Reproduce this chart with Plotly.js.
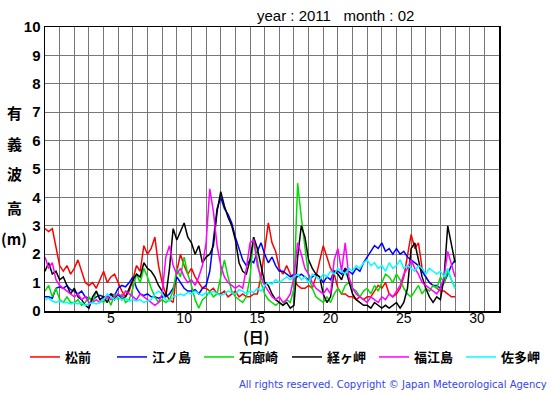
<!DOCTYPE html>
<html><head><meta charset="utf-8">
<script src="https://cdn.plot.ly/plotly-3.0.1.min.js"></script>
<style>html,body{margin:0;padding:0;background:#fff;}#chart{width:555px;height:395px;}</style>
</head><body><div id="chart"></div>
<script>
// 6-hourly significant wave height (m), Feb 2011, t = days elapsed since Feb 1 00:00
const stepDays = 0.25;
const names = ['松前','江ノ島','石廊崎','経ヶ岬','福江島','佐多岬'];
const colors = ['#ff0000','#0000ff','#00dd00','#000000','#ff00ff','#00ffff'];
const matsumae = [
2.9,2.8,2.9,2.3, 1.6,1.4,1.6,1.3, 1.5,1.8,1.4,1.0, 0.9,1.0,0.8,1.1, 1.4,1.0,1.2,1.3,
1.0,0.7,0.5,0.7, 1.1,1.6,1.4,2.3, 2.0,2.2,2.6,1.6, 1.0,0.6,0.4,0.3, 1.4,2.0,1.6,1.3,
1.5,1.2,1.0,0.8, 0.8,0.7,0.8,0.6, 0.6,0.7,0.5,0.6, 0.7,0.5,0.6,0.5, 0.5,0.6,0.6,1.2,
2.2,3.1,2.4,2.1, 1.5,1.3,1.6,1.3, 1.1,0.9,0.8,0.8, 0.9,0.8,1.2,1.8, 2.3,1.9,1.5,1.3,
0.8,0.6,0.6,0.5, 0.5,0.4,0.5,0.4, 0.5,0.5,0.7,0.9, 0.8,1.0,0.6,0.5, 0.6,0.8,1.2,2.0,
2.7,2.2,2.4,1.5, 1.2,1.0,0.9,0.8, 0.7,0.7,0.6,0.5, 0.5];
const enoshima = [
0.5,0.5,0.45,0.8, 0.85,0.8,0.9,0.75, 0.7,0.6,0.7,0.5, 0.45,0.4,0.5,0.55, 0.5,0.5,0.6,0.55,
0.8,0.9,0.85,1.0, 1.2,0.8,0.6,0.55, 0.6,0.5,0.5,0.45, 0.5,0.5,0.6,0.8, 1.2,1.0,0.8,0.7,
0.7,0.75,0.6,0.8, 0.9,1.4,2.5,3.6, 4.0,3.6,3.4,3.1, 2.6,2.2,1.8,1.6, 1.8,1.7,2.1,2.4,
2.0,1.7,1.9,1.6, 1.4,1.4,1.3,1.2, 1.3,1.2,1.3,1.2, 1.1,1.2,1.3,1.2, 1.0,1.2,1.1,1.4,
1.4,1.3,1.5,1.4, 1.3,1.5,1.4,1.7, 1.9,2.1,2.3,2.2, 2.4,2.1,2.2,2.0, 2.2,2.0,2.1,1.9,
1.8,1.7,1.6,1.4, 1.2,1.0,0.9,0.9, 0.8,1.0,1.3,1.6, 1.8];
const irozaki = [
0.7,0.9,0.5,0.8, 0.4,0.3,0.5,0.3, 0.3,0.4,0.2,0.3, 0.5,0.3,0.7,0.4, 0.3,0.5,0.2,0.6,
0.4,0.6,0.3,0.4, 0.8,1.3,1.0,1.5, 1.2,0.8,0.5,0.3, 0.4,0.3,0.4,0.7, 1.5,1.2,1.9,1.3,
0.9,0.4,0.1,0.4, 0.5,0.7,0.5,0.6, 1.2,1.8,1.2,0.7, 0.5,0.4,0.3,0.5, 1.2,2.6,1.8,1.0,
0.6,0.4,0.3,0.2, 0.3,0.2,0.4,0.3, 0.8,4.5,3.3,2.2, 1.2,0.8,0.5,0.4, 0.3,0.5,0.3,0.6,
0.8,0.6,0.9,1.0, 0.8,0.7,0.5,0.7, 0.8,0.6,0.9,0.7, 1.0,1.3,1.2,1.0, 1.3,1.1,0.8,0.6,
0.5,0.7,0.9,0.6, 0.8,0.7,0.9,0.8, 1.2,1.0,1.4,1.1, 0.8];
const kyogamisaki = [
1.4,1.7,1.3,1.4, 1.1,1.2,0.9,0.6, 0.8,0.5,0.4,0.2, 0.1,0.5,0.7,0.4, 0.5,0.3,0.6,0.4,
0.6,0.4,0.5,0.8, 1.1,1.3,1.2,1.7, 1.5,1.4,1.2,0.9, 0.7,0.5,1.5,2.9, 2.5,2.8,3.1,2.6,
2.4,2.0,2.3,1.7, 1.9,2.0,2.3,3.5, 4.2,3.7,3.3,3.0, 2.5,1.7,1.4,1.3, 1.8,2.6,2.2,1.6,
1.0,0.9,0.6,0.4, 0.3,0.2,0.3,0.1, 0.2,1.9,3.0,2.6, 1.8,1.5,1.3,1.2, 0.6,0.3,0.5,1.4,
1.3,1.1,1.5,1.0, 0.6,0.4,0.3,0.2, 0.2,0.1,0.3,0.2, 0.1,0.2,0.1,0.2, 0.3,0.1,0.3,0.8,
2.2,2.4,1.8,1.2, 0.8,0.5,0.3,0.5, 0.4,1.2,3.0,2.4, 1.7];
const fukuejima = [
1.9,1.5,1.7,1.1, 0.9,0.8,0.7,0.6, 0.5,0.6,0.4,0.5, 0.3,0.3,0.4,0.3, 0.4,0.5,0.4,0.5,
0.6,0.5,0.7,0.6, 0.5,0.4,0.6,0.5, 0.4,0.3,0.2,0.3, 0.6,1.9,2.3,1.6, 1.3,1.5,1.2,1.0,
1.1,0.9,1.2,1.6, 2.4,4.3,3.5,2.3, 1.6,1.2,1.0,0.9, 0.8,0.9,0.8,1.5, 2.4,2.5,1.6,1.2,
0.9,0.7,0.5,0.4, 0.5,0.3,0.4,0.6, 1.2,2.4,2.0,1.5, 1.3,1.0,0.8,0.7, 0.6,0.8,0.6,1.8,
2.2,1.4,2.4,1.2, 0.8,0.6,0.5,0.4, 0.3,0.5,0.4,0.3, 0.5,0.4,0.6,0.5, 0.7,0.9,1.3,1.5,
1.8,1.5,1.3,1.0, 0.9,0.8,0.7,0.6, 0.8,1.2,2.1,1.6, 1.2];
const satamisaki = [
0.4,0.45,0.35,0.3, 0.35,0.3,0.3,0.25, 0.3,0.25,0.3,0.2, 0.25,0.3,0.25,0.3, 0.4,0.6,0.5,0.4,
0.5,0.4,0.45,0.35, 0.4,0.35,0.4,0.3, 0.35,0.4,0.6,0.7, 0.6,0.4,0.35,0.5, 0.55,0.6,0.55,0.65,
0.6,0.7,0.6,0.55, 0.65,0.6,0.7,0.6, 0.55,0.6,0.7,0.65, 0.6,0.75,0.7,0.6, 0.7,0.65,0.8,0.7,
0.9,1.0,0.95,1.1, 1.0,1.1,1.2,1.1, 1.2,1.3,1.1,1.2, 1.0,1.3,1.2,1.1, 1.3,1.2,1.4,1.3,
1.5,1.4,1.3,1.5, 1.4,1.6,1.5,1.7, 1.8,1.6,1.7,1.5, 1.6,1.4,1.7,1.5, 1.6,1.8,1.5,1.6,
1.5,1.4,1.6,1.5, 1.3,1.5,1.4,1.3, 1.4,1.2,1.5,1.1, 0.8];
const series = [matsumae, enoshima, irozaki, kyogamisaki, fukuejima, satamisaki];
const tickDays = [5,10,15,20,25,30];
const yTicks = [0,1,2,3,4,5,6,7,8,9,10];

const traces = series.map((vals,k)=>({
  type:'scatter', mode:'lines', name:names[k], legend: k<3 ? 'legend' : 'legend2',
  x: vals.map((v,i)=>i*stepDays), y: vals,
  line:{color:colors[k], width:1.5}
}));

// pixel -> paper helpers (plot area 45..499 x 27..311)
const PX=(p)=>(p-45)/454, PY=(p)=>(311-p)/284;
const jp = 'Noto Sans CJK JP, sans-serif';
const ylab = [['有',112],['義',143],['波',173],['高',207],['(m)',238]];
const ann = ylab.map(([t,py])=>({xref:'paper',yref:'paper',x:PX(14),y:PY(py),text:t,showarrow:false,
  font:{family:jp,size:15,color:'#000',weight:'bold'},xanchor:'center',yanchor:'middle'}));
ann.push({xref:'paper',yref:'paper',x:PX(335),y:PY(16),text:'year : 2011&nbsp;&nbsp;&nbsp;month : 02',showarrow:false,
  font:{family:'Liberation Sans, Arial',size:15,color:'#000'},xanchor:'center',yanchor:'middle'});
ann.push({xref:'paper',yref:'paper',x:PX(256),y:PY(336),text:'(日)',showarrow:false,
  font:{family:jp,size:15,color:'#000',weight:'bold'},xanchor:'center',yanchor:'middle'});
ann.push({xref:'paper',yref:'paper',x:PX(549),y:PY(385),text:'All rights reserved. Copyright © Japan Meteorological Agency',showarrow:false,
  font:{family:'DejaVu Sans, sans-serif',size:10,color:'#3344ee'},xanchor:'right',yanchor:'middle'});

const legendBase = {orientation:'h', xref:'container', yref:'container', y:1-357/395, xanchor:'left', yanchor:'middle',
  entrywidth:42, entrywidthmode:'pixels', itemwidth:30,
  font:{family:jp,size:13,color:'#000',weight:'bold'}, bgcolor:'rgba(0,0,0,0)', tracegroupgap:0};

const layout = {
  width:555, height:395, margin:{l:45,r:56,t:27,b:84},
  paper_bgcolor:'#fff', plot_bgcolor:'#fff', showlegend:true,
  xaxis:{range:[0,31], tickmode:'array', tickvals:tickDays.map(d=>d-0.5), ticktext:tickDays.map(String),
    showgrid:false, zeroline:false, showline:true, mirror:true, linecolor:'#000', linewidth:1.5, ticks:'', ticklen:0,
    ticklabelstandoff:-6,
    minor:{tick0:0, dtick:1, showgrid:true, gridcolor:'#777', gridwidth:1, ticks:''},
    tickfont:{family:'Liberation Sans, Arial',size:14,color:'#000'}, fixedrange:true},
  yaxis:{range:[0,10], tickmode:'array', tickvals:yTicks, ticktext:yTicks.map(String),
    showgrid:true, gridcolor:'#777', gridwidth:1, zeroline:false, showline:true, mirror:true, linecolor:'#000', linewidth:1.5, ticks:'', ticklen:0,
    tickfont:{family:'Liberation Sans, Arial',size:15,color:'#000',weight:'bold'}, fixedrange:true},
  legend: Object.assign({}, legendBase, {x:25/555}),
  legend2: Object.assign({}, legendBase, {x:287/555}),
  annotations:ann
};
Plotly.newPlot('chart', traces, layout, {displayModeBar:false, staticPlot:true});
</script></body></html>
